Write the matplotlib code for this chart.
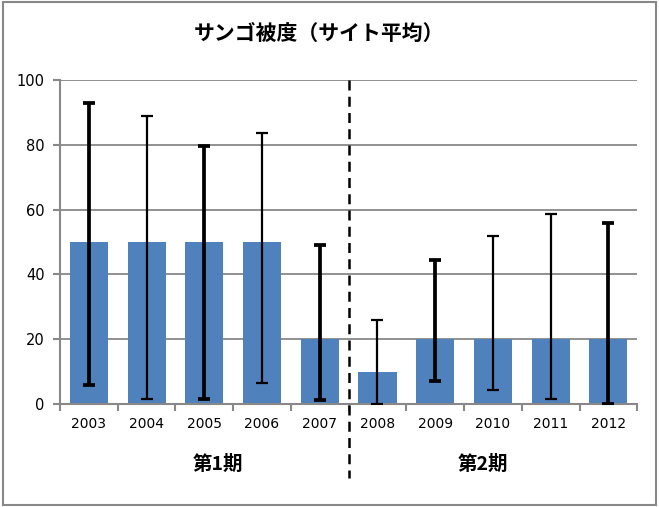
import numpy as np
import matplotlib
matplotlib.use("Agg")
import matplotlib.pyplot as plt
from matplotlib.patches import Rectangle

plt.rcParams['font.family'] = ['DejaVu Sans', 'Noto Sans CJK JP']

# data
years = ["2003", "2004", "2005", "2006", "2007", "2008", "2009", "2010", "2011", "2012"]
cover = [50, 50, 50, 50, 20, 10, 20, 20, 20, 20]
err_top = [93.0, 88.9, 79.6, 83.7, 49.1, 26.0, 44.4, 52.0, 58.8, 55.9]
err_bottom = [5.8, 1.5, 1.5, 6.4, 1.2, 0.0, 7.0, 4.5, 1.5, 0.0]
periods = ["第1期", "第2期"]
title = "サンゴ被度（サイト平均）"

fig = plt.figure(figsize=(6.59, 5.07), dpi=100)
ax = fig.add_axes([0.091, 0.203, 0.876, 0.639])

x = np.arange(len(years))
ax.bar(x, cover, width=0.66, color="#4f81bd", zorder=2)

# error bars, alternating line weight like the original render
widths = [2.7, 1.6, 2.7, 1.6, 2.7, 1.6, 2.7, 1.6, 1.6, 2.7]
for i in range(len(years)):
    lo = cover[i] - err_bottom[i]
    hi = err_top[i] - cover[i]
    ax.errorbar(x[i], cover[i], yerr=[[lo], [hi]], fmt="none", ecolor="black",
                elinewidth=widths[i], capsize=4.5, capthick=widths[i], zorder=3)

ax.set_xlim(-0.5, len(years) - 0.5)
ax.set_ylim(0, 100)
ax.set_yticks(range(0, 101, 20))
ax.yaxis.grid(True, color="#888888", linewidth=1.3, zorder=0)
ax.set_axisbelow(True)

ax.set_xticks(x)
ax.set_xticklabels(years)
ax.set_xticks(np.arange(-0.5, len(years), 1), minor=True)
ax.tick_params(axis="x", which="major", length=0, pad=9, labelsize=10)
ax.tick_params(axis="x", which="minor", length=5, width=1.5, color="#888888", direction="out")
ax.tick_params(axis="y", length=5, width=1.5, color="#888888", pad=6, labelsize=10.5)

for s in ["top", "right"]:
    ax.spines[s].set_visible(False)
for s in ["left", "bottom"]:
    ax.spines[s].set_color("#888888")
    ax.spines[s].set_linewidth(1.5)

# dashed separator between the two periods
ax.plot([4.5, 4.5], [100, -22.8], color="black", linestyle=(0, (4, 2.5)),
        linewidth=1.8, clip_on=False, zorder=4)

ax.text(2.24, -18.5, periods[0], ha="center", va="center", fontsize=14,
        fontweight="bold", family=["Noto Sans CJK JP", "DejaVu Sans"])
ax.text(6.82, -18.5, periods[1], ha="center", va="center", fontsize=14,
        fontweight="bold", family=["Noto Sans CJK JP", "DejaVu Sans"])

fig.text(0.484, 0.934, title, ha="center", va="center", fontsize=15,
         fontweight="bold", family=["Noto Sans CJK JP", "DejaVu Sans"])

fig.patches.append(Rectangle((0.004, 0.004), 0.992, 0.992, transform=fig.transFigure,
                             fill=False, edgecolor="#888888", linewidth=1.5))

fig.savefig("out.png", dpi=100)
